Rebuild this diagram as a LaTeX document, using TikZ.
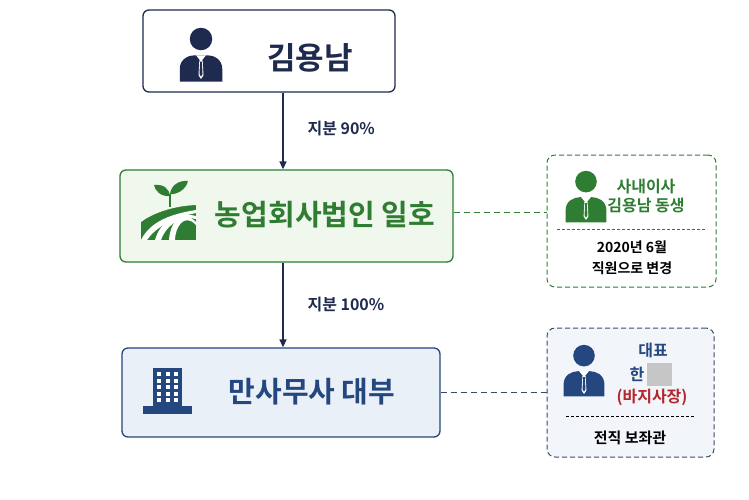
\documentclass[tikz,border=0pt]{standalone}
\usepackage{fontspec}
\setmainfont{Noto Sans CJK KR}[BoldFont={* Bold}]
\usetikzlibrary{arrows.meta}
\definecolor{navy}{HTML}{1E2A4E}
\definecolor{gr}{HTML}{2E7D32}
\definecolor{grfill}{HTML}{F0F7EC}
\definecolor{bl}{HTML}{24477F}
\definecolor{blfill}{HTML}{EAF0F8}
\definecolor{bdash}{HTML}{3A4A6A}
\definecolor{redt}{HTML}{B3262B}
\tikzset{
 mainbox/.style={draw, rounded corners=6pt, line width=1.3pt},
 sidebox/.style={draw, dashed, rounded corners=8pt, line width=1pt, dash pattern=on 5pt off 3pt},
 lbl/.style={font=\bfseries\fontsize{16}{18}\selectfont, text=navy},
 person/.pic={
   \fill (0,-12) circle (9);
   \fill (-17,22) -- (-17,12) .. controls (-17,4) and (-10,1) .. (-5,1) -- (5,1) .. controls (10,1) and (17,4) .. (17,12) -- (17,22) -- cycle;
   \fill[white] (-4,1) -- (0,6) -- (4,1) -- cycle;
   \fill[white] (-1.3,5) -- (1.3,5) -- (2,17) -- (0,20) -- (-2,17) -- cycle;
   \fill (-0.7,6) -- (0.7,6) -- (1.2,16) -- (0,18) -- (-1.2,16) -- cycle;
 }
}
\begin{document}
\begin{tikzpicture}[x=1pt,y=-1pt]
\useasboundingbox (0,0) rectangle (749,499);
% main boxes
\node[mainbox, draw=navy, fill=white, minimum width=252pt, minimum height=82pt] (top) at (269,51) {};
\node[mainbox, draw=gr, fill=grfill, minimum width=333pt, minimum height=92pt] (farm) at (286.5,216) {};
\node[mainbox, draw=bl, fill=blfill, minimum width=318pt, minimum height=89pt] (lend) at (281,392.5) {};
\node[font=\bfseries\fontsize{31}{34}\selectfont, text=navy] (t1) at (310,58) {김용남};
\node[font=\bfseries\fontsize{29}{34}\selectfont, text=gr] (t2) at (325,215) {농업회사법인 일호};
\node[font=\bfseries\fontsize{29}{34}\selectfont, text=bl] (t3) at (312,392) {만사무사 대부};
\pic[navy, scale=1.25] at (201,54) {person};
% plant icon
\begin{scope}[gr]
 \fill (141,197) rectangle (196,240);
 \fill[grfill] (141,197) -- (196,197) -- (196,205) .. controls (170,206) and (150,215) .. (141,222) -- cycle;
 \foreach \o in {0,10,20} {\fill[white] (141+\o*1.4,240) .. controls (150+\o,222) and (170+\o*0.6,214-\o*0.3) .. (196,210+\o*0.6) -- (196,213+\o*0.6) .. controls (172+\o*0.6,218-\o*0.3) and (155+\o,228) .. (147+\o*1.4,240) -- cycle;}
 \draw[line width=2.5pt] (170,207) -- (170,194);
 \fill (170,196) .. controls (160,197) and (155,190) .. (154,185) .. controls (163,184) and (169,188) .. (170,196);
 \fill (170,194) .. controls (176,195) and (186,190) .. (188,181) .. controls (178,180) and (171,186) .. (170,194);
\end{scope}
% building icon
\begin{scope}[bl]
 \fill (153,368) rectangle (182,412);
 \fill (143,406) rectangle (192,414);
 \foreach \i in {0,1,2} \foreach \j in {0,1,2,3,4} {\fill[white] (157+\i*8.5,372+\j*6.5) rectangle (161+\i*8.5,376+\j*6.5);}
\end{scope}
% arrows
\draw[-{Triangle[length=8pt,width=7pt]}, line width=1.5pt, navy] (top.south -| 283,0) -- (farm.north -| 283,0);
\draw[-{Triangle[length=8pt,width=7pt]}, line width=1.5pt, navy] (farm.south -| 283,0) -- (lend.north -| 283,0);
\node[lbl, anchor=west] (p1) at (304,129) {지분 90\%};
\node[lbl, anchor=west] (p2) at (304,305) {지분 100\%};
% side boxes
\node[sidebox, draw=gr, fill=white, minimum width=169pt, minimum height=132pt] (sb1) at (631.5,221) {};
\node[sidebox, draw=bdash, fill=blfill!60, minimum width=167pt, minimum height=129pt] (sb2) at (630.5,392.5) {};
\draw[gr, line width=1pt, dash pattern=on 6pt off 4pt] (farm.east |- 0,212) -- (sb1.west |- 0,212);
\draw[bdash, line width=1pt, dash pattern=on 6pt off 4pt] (lend.east) -- (sb2.west);
\pic[gr, scale=1.2] at (586,196) {person};
\pic[bl, scale=1.2] at (584,370) {person};
\node[font=\bfseries\fontsize{16}{18}\selectfont, text=gr, align=center] (s1) at (646,196) {사내이사\\[1pt]김용남 동생};
\draw[gr, line width=0.8pt, dash pattern=on 3pt off 2pt] (557,229) -- (707,229);
\node[font=\bfseries\fontsize{14}{21}\selectfont, text=black, align=center] (s2) at (632,258) {2020년 6월\\직원으로 변경};
\node[font=\bfseries\fontsize{16}{18}\selectfont, text=bl] (d1) at (653,350) {대표};
\node[font=\bfseries\fontsize{16}{18}\selectfont, text=bl] (d2) at (637,374) {한};
\fill[gray!45] (647,363) rectangle (672,386);
\node[font=\bfseries\fontsize{16}{18}\selectfont, text=redt] (d3) at (652,397) {(바지사장)};
\draw[black, line width=0.8pt, dash pattern=on 3pt off 2pt] (566,416) -- (695,416);
\node[font=\bfseries\fontsize{15}{18}\selectfont, text=black] (d4) at (630,438) {전직 보좌관};
\end{tikzpicture}
\end{document}
